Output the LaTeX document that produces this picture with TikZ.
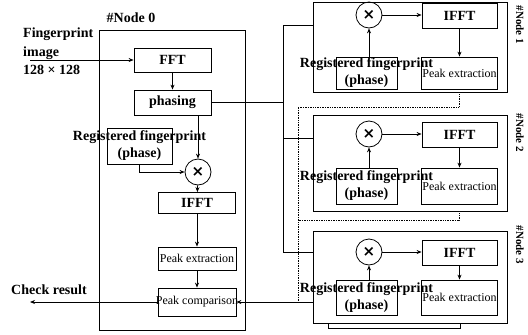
\documentclass[tikz,border=0pt]{standalone}
\usepackage{fontspec}
\setmainfont{Liberation Serif}
\newfontfamily\symfont{DejaVu Sans}
\usetikzlibrary{arrows.meta,positioning,calc}

\begin{document}
\begin{tikzpicture}[x=1pt, y=-1pt,
    box/.style={rectangle, draw, line width=0.8pt, inner sep=1pt, align=center,
                font=\fontsize{14}{16}\selectfont\bfseries},
    pkbox/.style={box, font=\fontsize{12}{13}\selectfont},
    frame/.style={rectangle, draw, line width=0.8pt, inner sep=0pt},
    mul/.style={circle, draw, line width=0.8pt, minimum size=26pt, inner sep=0pt,
                font=\symfont\bfseries\fontsize{15}{15}\selectfont},
    lbl/.style={align=center, inner sep=0pt, font=\fontsize{14}{17}\selectfont\bfseries},
    arrow/.style={-{Stealth[length=5pt,width=4pt]}, line width=0.8pt},
    link/.style={line width=0.8pt},
    back/.style={densely dotted, line width=0.7pt}
]
\useasboundingbox (0,0) rectangle (528,335);

% master node
\node[frame, minimum width=146pt, minimum height=300pt] (node0) at (172,180) {};
\node[lbl] (lab0) at (131,18) {\#Node 0};
\node[box, minimum width=77pt, minimum height=24pt] (fft) at (172.5,60) {FFT};
\node[box, minimum width=77pt, minimum height=25pt] (phasing) at (172.5,102.5) {phasing};
\node[frame, minimum width=65pt, minimum height=36pt] (reg0) at (139.5,146) {};
\node[lbl] (regtxt0) at (reg0) {Registered fingerprint\\(phase)};
\node[mul] (mul0) at (198,172) {×};
\node[box, minimum width=77pt, minimum height=21pt] (ifft0) at (197,203) {IFFT};
\node[pkbox, minimum width=78pt, minimum height=23pt] (pe0) at (197,258.5) {Peak extraction};
\node[frame, minimum width=78pt, minimum height=28pt] (pc0) at (197,302) {};
\node[pkbox, draw=none, inner sep=0pt] (pctxt0) at (pc0) {Peak comparison};

% input and result
\node[lbl, align=left, anchor=north west, font=\fontsize{14}{18.5}\selectfont\bfseries] (input) at (23,28) {Fingerprint\\image\\128 × 128};
\coordinate (inp) at (30,60);
\node[lbl, anchor=west] (chk) at (11,290) {Check result};
\coordinate (chkend) at (30,302);

\draw[arrow] (inp) -- (fft.west);
\draw[arrow] (fft) -- (phasing);
\draw[arrow] (phasing.south -| mul0) -- (mul0);
\draw[arrow] (reg0.south) |- (mul0.west);
\draw[arrow] (mul0) -- (ifft0);
\draw[arrow] (ifft0) -- (pe0);
\draw[arrow] (pe0) -- (pc0);
\draw[arrow] (pc0.west) -- (chkend);

% distribution bus
\coordinate (bustop) at (283,25);
\coordinate (busbot) at (283,252);
\draw[link] (phasing.east) -- (phasing.east -| bustop);
\draw[link] (bustop) -- (busbot);

% worker nodes
\foreach \n/\t/\b/\c/\lt/\lb/\l/\ly in {1/2/92/15/57/89/25/25, 2/115/211/134/168/204/138/133, 3/231/323/252/280/315/252/245} {
  \pgfmathsetmacro\h{\b-\t}
  \pgfmathsetmacro\m{(\t+\b)/2}
  \pgfmathsetmacro\lh{\lb-\lt}
  \pgfmathsetmacro\lm{(\lt+\lb)/2}
  \node[frame, minimum width=194pt, minimum height=\h pt] (box\n) at (410,\m) {};
  \node[mul] (mul\n) at (369,\c) {×};
  \node[box, minimum width=75pt, minimum height=25pt] (ifft\n) at (459.5,{\c+1}) {IFFT};
  \node[frame, minimum width=61pt, minimum height=\lh pt] (reg\n) at (366.5,\lm) {};
  \node[lbl] (regtxt\n) at (reg\n) {Registered fingerprint\\(phase)};
  \node[pkbox, minimum width=75pt, minimum height=\lh pt] (pe\n) at (459.5,\lm) {Peak extraction};
  \node[lbl, rotate=-90, font=\fontsize{11}{13}\selectfont\bfseries] (lab\n) at (520,\ly) {\#Node \n};
  \draw[arrow] (mul\n |- reg\n.north) -- (mul\n);
  \draw[arrow] (mul\n.east) -- (mul\n.east -| ifft\n.west);
  \draw[arrow] (ifft\n) -- (pe\n);
  \coordinate (tap\n) at (283,\l);
  \draw[link] (tap\n) -- (tap\n -| box\n.west);
}

% results back to the master
\coordinate (ret1) at (459,107);
\coordinate (ret2) at (459,220);
\coordinate (join) at (298,302);
\draw[back] (box1.south -| ret1) -- (ret1) -- (ret1 -| join) -- (join);
\draw[back] (box2.south -| ret2) -- (ret2) -- (ret2 -| join);
\draw[arrow] (pc0.east -| box3.west) -- (pc0.east);
\coordinate (brk1) at (328,328);
\coordinate (brk2) at (460,328);
\draw[link] (brk1 |- box3.south) -- (brk1) -- (brk2) -- (brk2 |- box3.south);
\end{tikzpicture}
\end{document}
